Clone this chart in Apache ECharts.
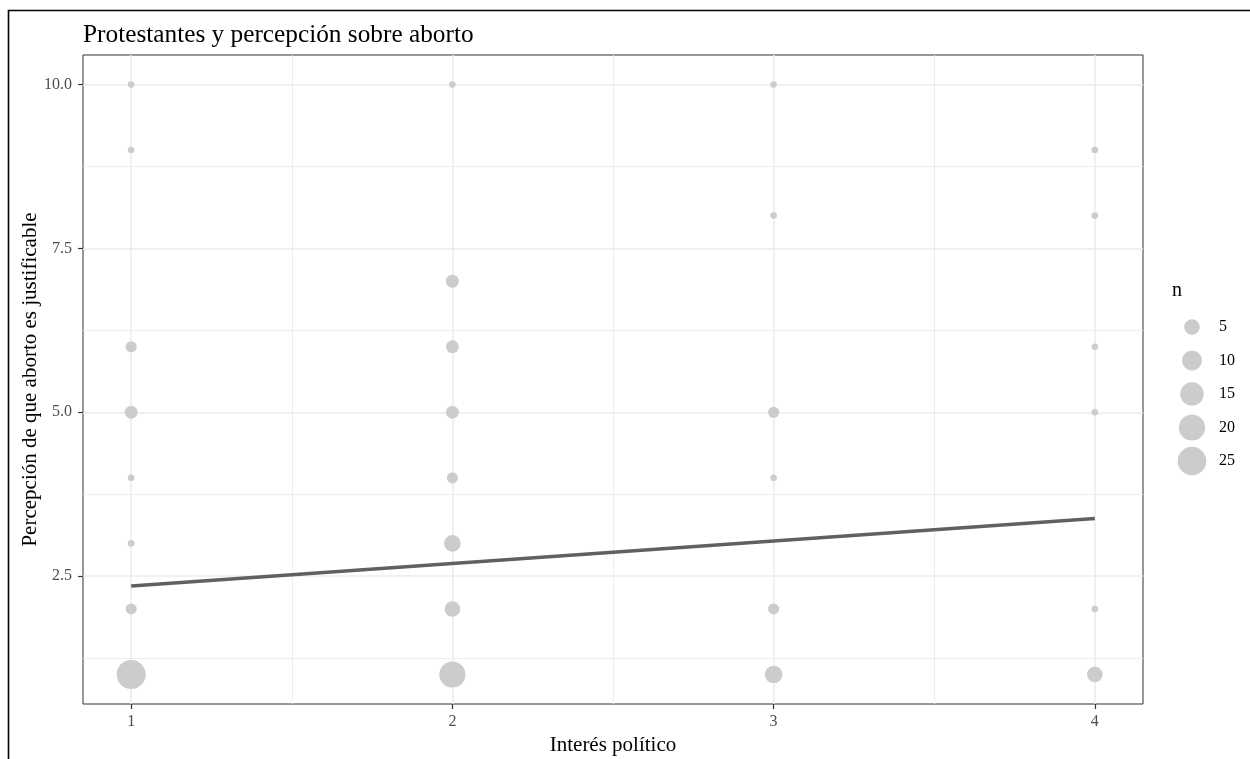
<!DOCTYPE html>
<html>
<head>
<meta charset="utf-8">
<script src="https://cdn.jsdelivr.net/npm/echarts@6/dist/echarts.min.js"></script>
<style>
html,body{margin:0;padding:0;background:#fff;}
#chart{width:1250px;height:759px;}
</style>
</head>
<body>
<div id="chart"></div>
<script>
// ---- data ----
var interes   = [1,1,1,1,1,1,1,1, 2,2,2,2,2,2,2,2, 3,3,3,3,3,3, 4,4,4,4,4,4];
var percepcion= [10,9,6,5,4,3,2,1, 10,7,6,5,4,3,2,1, 10,8,5,4,2,1, 9,8,6,5,2,1];
var counts    = [1,1,2,3,1,1,2,26, 1,3,3,3,2,6,5,20, 1,1,2,1,2,7, 1,1,1,1,1,5];
var fitX = [1, 4];
var fitY = [2.35, 3.38];
var xTicks = [1, 2, 3, 4];
var xMinorGrid = [1.5, 2.5, 3.5];
var yTicks = [2.5, 5.0, 7.5, 10.0];
var yMinorGrid = [1.25, 3.75, 6.25, 8.75];
var legendBreaks = [5, 10, 15, 20, 25];
var titleText = 'Protestantes y percepción sobre aborto';
var xTitle = 'Interés político';
var yTitle = 'Percepción de que aborto es justificable';

// ---- size scale (area scale like ggplot, range 1..6) ----
var nMin = Math.min.apply(null, counts), nMax = Math.max.apply(null, counts);
function diam(n){
  var s = 1 + 5*Math.sqrt(Math.max(0,(n-nMin))/(nMax-nMin));
  return (s*2.845 + 0.945)*1.58 + 0.6;
}

var FONT = '"Liberation Serif","DejaVu Serif",serif';
var pts = interes.map(function(x,i){ return [x, percepcion[i], counts[i]]; });
var fitData = fitX.map(function(x,i){ return [x, fitY[i]]; });

var gridMarks = [];
yTicks.forEach(function(v){ gridMarks.push({yAxis:v, lineStyle:{width:1.5}}); });
yMinorGrid.forEach(function(v){ gridMarks.push({yAxis:v, lineStyle:{width:0.9}}); });
xTicks.forEach(function(v){ gridMarks.push({xAxis:v, lineStyle:{width:1.5}}); });
xMinorGrid.forEach(function(v){ gridMarks.push({xAxis:v, lineStyle:{width:0.9}}); });

var chart = echarts.init(document.getElementById('chart'), null, {renderer:'canvas'});

// legend graphics
var legendEls = [];
legendEls.push({type:'text', left:1172, top:281, z:10,
  style:{text:'n', font:'20px '+FONT, fill:'#000'}});
legendBreaks.forEach(function(b,i){
  var cy = 327 + i*33.5, d = diam(b);
  legendEls.push({type:'circle', shape:{cx:1192, cy:cy, r:d/2}, style:{fill:'#CCCCCC'}, z:10});
  legendEls.push({type:'text', x:1219, y:cy, z:10,
    style:{text:String(b), font:'16px '+FONT, fill:'#000', verticalAlign:'middle', align:'left'}});
});

var option = {
  animation:false,
  backgroundColor:'#fff',
  textStyle:{fontFamily:FONT},
  title:{text:titleText, left:78, top:18,
    textStyle:{fontFamily:FONT, fontSize:25.3, fontWeight:'normal', color:'#000'}},
  grid:{left:83, right:107, top:55, bottom:55, outerBoundsMode:'none', containLabel:false,
    show:true, borderColor:'#333333', borderWidth:1, backgroundColor:'#fff'},
  xAxis:{type:'value', min:0.85, max:4.15,
    name:xTitle, nameLocation:'middle', nameGap:30,
    nameTextStyle:{fontFamily:FONT, fontSize:21, color:'#000'},
    axisLine:{show:false},
    axisTick:{show:true, customValues:xTicks, length:5, lineStyle:{color:'#333333', width:1.2}},
    axisLabel:{customValues:xTicks, fontFamily:FONT, fontSize:16, color:'#4D4D4D', margin:10},
    splitLine:{show:false}},
  yAxis:{type:'value', min:0.55, max:10.45,
    name:yTitle, nameLocation:'middle', nameGap:42, nameRotate:90, nameMoveOverlap:false,
    nameTextStyle:{fontFamily:FONT, fontSize:21, color:'#000'},
    axisLine:{show:false},
    axisTick:{show:true, customValues:yTicks, length:5, lineStyle:{color:'#333333', width:1.2}},
    axisLabel:{customValues:yTicks, fontFamily:FONT, fontSize:16, color:'#4D4D4D', margin:11,
      formatter:function(v){ return v.toFixed(1); }},
    splitLine:{show:false}},
  graphic:[{type:'rect', shape:{x:8.5, y:10.5, width:1400, height:900},
    style:{fill:null, stroke:'#000', lineWidth:1.6}, z:20, silent:true}].concat(legendEls),
  series:[
    {type:'line', data:[], z:1, silent:true,
      markLine:{z:1, silent:true, symbol:['none','none'], label:{show:false},
        lineStyle:{color:'#EBEBEB', type:'solid'}, data:gridMarks, animation:false}},
    {type:'scatter', data:pts, z:10, silent:true,
      symbolSize:function(v){ return diam(v[2]); },
      itemStyle:{color:'#CCCCCC', opacity:1}},
    {type:'line', data:fitData, z:11, showSymbol:false, silent:true,
      lineStyle:{color:'#606060', width:3.5}}
  ]
};
chart.setOption(option);
</script>
</body>
</html>
